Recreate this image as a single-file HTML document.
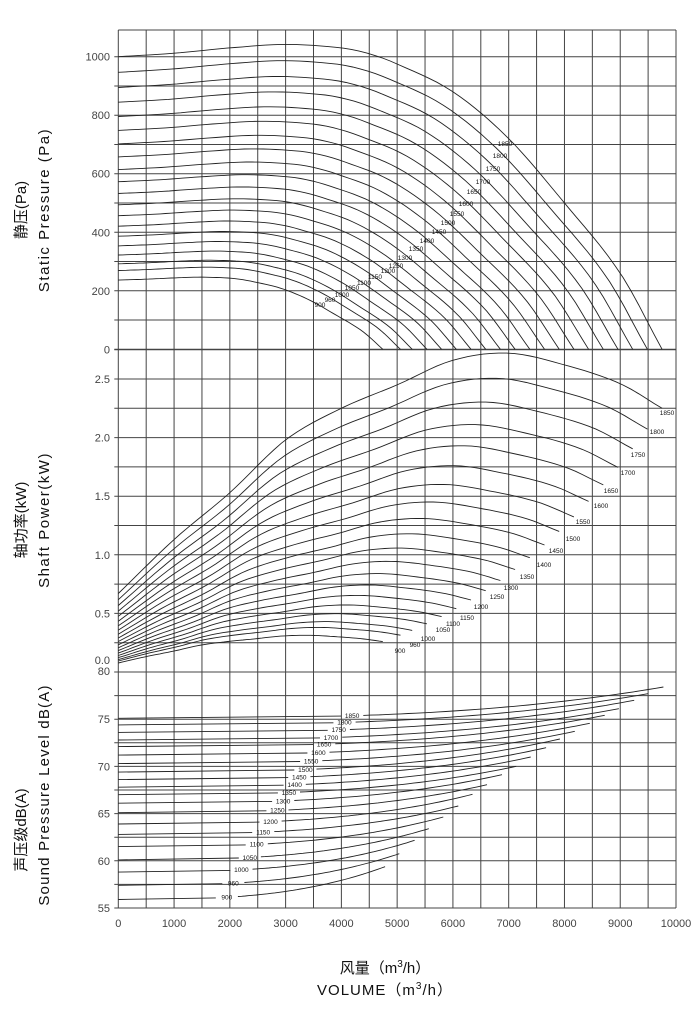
<!DOCTYPE html>
<html><head><meta charset="utf-8"><style>
html,body{margin:0;padding:0;background:#fff;}
svg{display:block;}
text{font-family:"Liberation Sans","Noto Sans CJK SC",sans-serif;}
</style></head><body>
<svg id="s" width="700" height="1011" viewBox="0 0 700 1011" xmlns="http://www.w3.org/2000/svg">
<g id="grid" stroke="#444" stroke-width="1" fill="none"></g>
<g id="curves" stroke="#222" stroke-width="0.9" fill="none"></g>
<g id="lbl" font-size="6.5" fill="#111"></g>
<g id="ticks" font-size="11" fill="#444"></g>
<g font-size="15" fill="#111">
<text transform="translate(26,210) rotate(-90)" text-anchor="middle">静压(Pa)</text>
<text transform="translate(49,210) rotate(-90)" text-anchor="middle" letter-spacing="1.5">Static Pressure (Pa)</text>
<text transform="translate(26,520) rotate(-90)" text-anchor="middle">轴功率(kW)</text>
<text transform="translate(49,520) rotate(-90)" text-anchor="middle" letter-spacing="1.5">Shaft Power(kW)</text>
<text transform="translate(26,830) rotate(-90)" text-anchor="middle">声压级dB(A)</text>
<text transform="translate(49,795) rotate(-90)" text-anchor="middle" letter-spacing="1.2">Sound Pressure Level dB(A)</text>
<text x="385" y="973" text-anchor="middle">风量（m<tspan dy="-6" font-size="10">3</tspan><tspan dy="6">/h）</tspan></text>
<text x="385" y="995" text-anchor="middle" letter-spacing="1">VOLUME（m<tspan dy="-6" font-size="10">3</tspan><tspan dy="6">/h）</tspan></text>
</g>
</svg>
<script>
var NS="http://www.w3.org/2000/svg";
function el(p,t,a,txt){var e=document.createElementNS(NS,t);for(var k in a)e.setAttribute(k,a[k]);if(txt!==undefined)e.textContent=txt;document.getElementById(p).appendChild(e);return e;}
var X0=118.3,XS=0.05577;function X(q){return X0+q*XS;}
function YP(p){return 349.3-p*0.2926;}
function YW(w){return 672-w*117.2;}
function YS(d){return 908-(d-55)*9.44;}
var TOP=30,BOT=908,L=118.3,R=676;
// grid
for(var q=0;q<=10000;q+=500)el("grid","line",{x1:X(q),x2:X(q),y1:TOP,y2:BOT});
el("grid","line",{x1:L,x2:R,y1:TOP,y2:TOP});
for(var p=0;p<=1000;p+=100)el("grid","line",{x1:L-4,x2:R,y1:YP(p),y2:YP(p)});
for(var w=0;w<2.76;w+=0.25)el("grid","line",{x1:L-4,x2:R,y1:YW(w),y2:YW(w)});
for(var d=55;d<=80;d+=2.5)el("grid","line",{x1:L-4,x2:R,y1:YS(d),y2:YS(d)});
// ticks
for(var p=0;p<=1000;p+=200)el("ticks","text",{x:110,y:YP(p)+4,"text-anchor":"end"},String(p));
[["2.5",2.5],["2.0",2],["1.5",1.5],["1.0",1],["0.5",0.5]].forEach(function(a){el("ticks","text",{x:110,y:YW(a[1])+4,"text-anchor":"end"},a[0]);});
el("ticks","text",{x:110,y:664,"text-anchor":"end"},"0.0");
for(var d=55;d<=80;d+=5)el("ticks","text",{x:110,y:YS(d)+(d==80?3:4),"text-anchor":"end"},String(d));
for(var q=0;q<=10000;q+=1000)el("ticks","text",{x:X(q),y:927,"text-anchor":"middle"},String(q));
// interpolation
function interp(pts,x){for(var i=0;i<pts.length-1;i++){if(x<=pts[i+1][0]||i==pts.length-2){var p0=pts[Math.max(i-1,0)],p1=pts[i],p2=pts[i+1],p3=pts[Math.min(i+2,pts.length-1)];var t=(x-p1[0])/(p2[0]-p1[0]);var m1=(p2[1]-p0[1])/(p2[0]-p0[0])*(p2[0]-p1[0]);var m2=(p3[1]-p1[1])/(p3[0]-p1[0])*(p2[0]-p1[0]);var t2=t*t,t3=t2*t;return (2*t3-3*t2+1)*p1[1]+(t3-2*t2+t)*m1+(-2*t3+3*t2)*p2[1]+(t3-t2)*m2;}}}
var SP=[900,960,1000,1050,1100,1150,1200,1250,1300,1350,1400,1450,1500,1550,1600,1650,1700,1750,1800,1850];
var PB=[[0,1000],[1000,1012],[2000,1030],[3000,1042],[4000,1030],[4500,1010],[5000,975],[6000,880],[7000,720],[8000,500],[9000,260],[9750,0]];
var WB=[[0,0.67],[1000,1.13],[2000,1.53],[3000,1.98],[4000,2.25],[5000,2.45],[6000,2.66],[7000,2.72],[8000,2.62],[9000,2.46],[9750,2.25]];
var PL={1850:[505,143],1800:[500,155],1750:[493,168],1700:[483,181],1650:[474,191],1600:[466,203],1550:[457,213],1500:[448,222],1450:[439,231],1400:[427,240],1350:[416,248],1300:[405,257],1250:[396,265],1200:[388,270],1150:[375,276],1100:[364,282],1050:[352,287],1000:[342,294],960:[330,299],900:[320,304]};
var WL={1850:[667,412],1800:[657,431],1750:[638,454],1700:[628,472],1650:[611,490],1600:[601,505],1550:[583,521],1500:[573,538],1450:[556,550],1400:[544,564],1350:[527,576],1300:[511,587],1250:[497,596],1200:[481,606],1150:[467,617],1100:[453,623],1050:[443,629],1000:[428,638],960:[415,644],900:[400,650]};
var SL0={1850:75.1,1800:74.4,1750:73.6,1700:72.8,1650:72.1,1600:71.2,1550:70.3,1500:69.4,1450:68.6,1400:67.8,1350:67.0,1300:66.1,1250:65.1,1200:63.9,1150:62.8,1100:61.5,1050:60.1,1000:58.8,960:57.4,900:55.9};
var SEND={1850:[1497,140],1800:[1457,160],1750:[1421,180],1700:[1381,205],1650:[1344,225],1600:[1305,249],1550:[1266,273],1500:[1227,296],1450:[1191,322],1400:[1151,350],1350:[1113,378],1300:[1076,403],1250:[1037,433],1200:[999,462],1150:[962,497],1100:[923,530],1050:[885,565],1000:[848,600],960:[808,640],900:[771,679]};
var SLX={1850:685,1800:665,1750:650,1700:630,1650:612,1600:597,1550:578,1500:563,1450:547,1400:535,1350:520,1300:505,1250:490,1200:472,1150:453,1100:436,1050:418,1000:396,960:375,900:358};
SP.forEach(function(n){
 var r=n/1850,s="",N=70;
 for(var i=0;i<=N;i++){var q=9750*i/N;var v=interp(PB,q)*r*r;s+=(i?"L":"M")+X(q*r).toFixed(1)+","+YP(Math.max(v,0)).toFixed(1);}
 el("curves","path",{d:s});
 el("lbl","text",{x:PL[n][0],y:PL[n][1]+3,"text-anchor":"middle"},String(n));
 s="";for(var i=0;i<=N;i++){var q=9750*i/N;var v=interp(WB,q)*r*r*r;s+=(i?"L":"M")+X(q*r).toFixed(1)+","+YW(v).toFixed(1);}
 el("curves","path",{d:s});
 el("lbl","text",{x:WL[n][0],y:WL[n][1]+3,"text-anchor":"middle"},String(n));
 var qe=(SEND[n][0]-75)/145.5*1000,de=80-(SEND[n][1]-95)/28.32,d0=SL0[n];
 var lx=X0+(SLX[n]-75)/1455*557.7,lq=(lx-X0)/XS;
 function dd(q){var t=q/qe;return d0+(de-d0)*t*t*t;}
 s="M"+X0+","+YS(d0).toFixed(1)+"L"+(lx-11).toFixed(1)+","+YS(dd(lq-200)).toFixed(1);
 el("curves","path",{d:s});
 s="";var q1=lq+200;for(var i=0;i<=40;i++){var q=q1+(qe-q1)*i/40;s+=(i?"L":"M")+X(q).toFixed(1)+","+YS(dd(q)).toFixed(1);}
 el("curves","path",{d:s});
 el("lbl","text",{x:lx,y:YS(dd(lq))+2.3,"text-anchor":"middle"},String(n));
});
</script>
</body></html>
